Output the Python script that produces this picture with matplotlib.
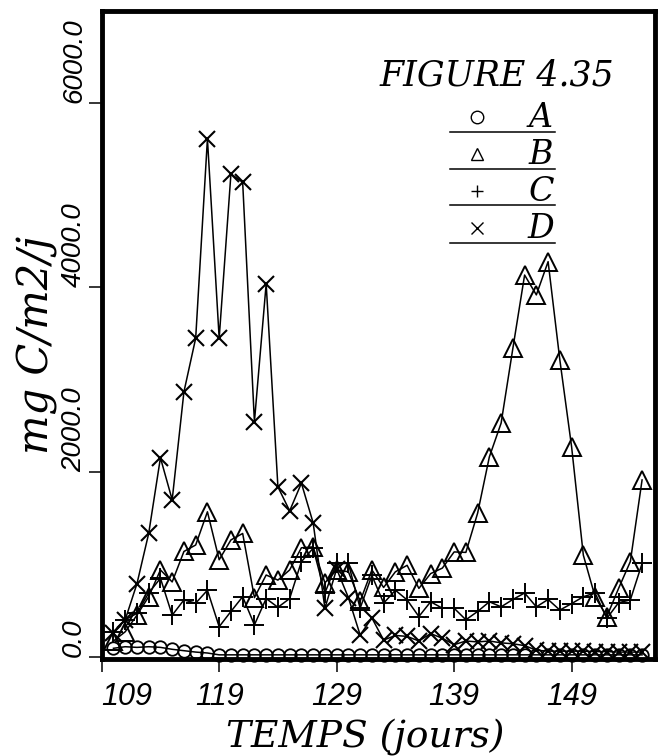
import numpy as np
import matplotlib
matplotlib.use('Agg')
import matplotlib.pyplot as plt

# jours d'echantillonnage
DAYS = np.arange(110, 156)

# mg C/m2/j, une valeur par jour (110 -> 155)
SERIE_A = [91, 108, 101, 108, 101, 80, 65, 50, 40, 20,
           20, 20, 20, 20, 20, 20, 20, 20, 20, 20,
           20, 20, 20, 20, 20, 20, 20, 20, 20, 20,
           20, 20, 20, 20, 20, 20, 20, 20, 20, 20,
           20, 20, 20, 20, 20, 20]
SERIE_B = [170, 270, 450, 650, 940, 810, 1140, 1210, 1570, 1050,
           1265, 1335, 640, 885, 830, 940, 1180, 1190, 800, 940,
           920, 600, 940, 750, 920, 990, 740, 900, 960, 1135,
           1130, 1555, 2165, 2530, 3340, 4135, 3920, 4280, 3215, 2275,
           1100, 650, 435, 740, 1030, 1915]
SERIE_C = [270, 400, 470, 690, 850, 450, 615, 580, 720, 325,
           490, 650, 345, 630, 535, 630, 1030, 1175, 690, 1010,
           1010, 525, 880, 580, 720, 615, 435, 595, 525, 525,
           400, 490, 595, 540, 620, 690, 540, 620, 505, 575,
           650, 690, 415, 585, 615, 1010]
SERIE_D = [260, 400, 790, 1335, 2155, 1700, 2870, 3450, 5610, 3450,
           5230, 5140, 2545, 4040, 1840, 1580, 1880, 1450, 525, 950,
           640, 235, 420, 180, 230, 220, 170, 250, 200, 130,
           170, 160, 170, 150, 140, 120, 70, 60, 60, 60,
           60, 55, 55, 50, 50, 50]

LABELS = ['A', 'B', 'C', 'D']
MARKERS = ['o', '^', '+', 'x']
X_TICKS = [109, 119, 129, 139, 149]
Y_TICKS = [0, 2000, 4000, 6000]
Y_TICK_LABELS = ['0.0', '2000.0', '4000.0', '6000.0']

W, H = 659, 756
SERIF = dict(family='DejaVu Serif', style='italic')
SANS = ['Liberation Sans', 'DejaVu Sans']


def fx(px):
    return px / W


def fy(py):
    return 1 - py / H


fig = plt.figure(figsize=(W / 100, H / 100), dpi=100)
ax = fig.add_axes([fx(101.7), fy(659), (655 - 101.7) / W, (659 - 10.6) / H])

styles = {
    'o': dict(ms=9, mew=1.3),
    '^': dict(ms=13, mew=1.4),
    '+': dict(ms=14, mew=1.4),
    'x': dict(ms=11.5, mew=1.5),
}
series = [SERIE_A, SERIE_B, SERIE_C, SERIE_D]
for vals, mk in zip(series, MARKERS):
    ax.plot(DAYS, vals, color='black', lw=1.1, marker=mk, mfc='none',
            mec='black', clip_on=False, **styles[mk])

ax.set_xlim(109, 156.1)
ax.set_ylim(-25, 7000)
ax.set_xticks(X_TICKS)
ax.set_xticklabels([str(t) for t in X_TICKS])
ax.set_yticks(Y_TICKS)
ax.set_yticklabels(Y_TICK_LABELS)

for s in ax.spines.values():
    s.set_linewidth(3.5)

ax.tick_params(axis='x', direction='out', length=9.5, width=1.1, pad=7)
ax.tick_params(axis='y', direction='out', length=9.5, width=1.1, pad=1,
               labelrotation=90)

for lab in ax.get_xticklabels():
    lab.set_fontfamily(SANS)
    lab.set_fontstyle('italic')
    lab.set_fontsize(22)
ax.get_xticklabels()[0].set_horizontalalignment('left')

for lab in ax.get_yticklabels():
    lab.set_fontfamily(SANS)
    lab.set_fontstyle('italic')
    lab.set_fontsize(20)
    lab.set_va('bottom')
    lab.set_ha('right')

fig.text(fx(365), fy(748), 'TEMPS (jours)', ha='center', va='baseline',
         fontsize=27, **SERIF)
fig.text(fx(49), fy(345), 'mg C/m2/j', ha='center', va='baseline',
         rotation=90, rotation_mode='anchor', fontsize=30, **SERIF)

# legende faite a la main
fig.text(fx(497), fy(85), 'FIGURE 4.35', ha='center', va='baseline',
         fontsize=25, **SERIF)
leg_y = [117, 154, 191, 228]
for i, (lab, mk) in enumerate(zip(LABELS, MARKERS)):
    y = leg_y[i]
    ax.plot([fx(476.7)], [fy(y)], transform=fig.transFigure, clip_on=False,
            marker=mk, ms=9, mfc='none', mec='black', mew=1.0, ls='none')
    fig.text(fx(541), fy(y + 10), lab, ha='center', va='baseline',
             fontsize=24, **SERIF)
    ax.plot([fx(450), fx(555)], [fy(y + 14.5)] * 2, transform=fig.transFigure,
            clip_on=False, color='black', lw=1.1)

fig.savefig('out.png', dpi=100)
